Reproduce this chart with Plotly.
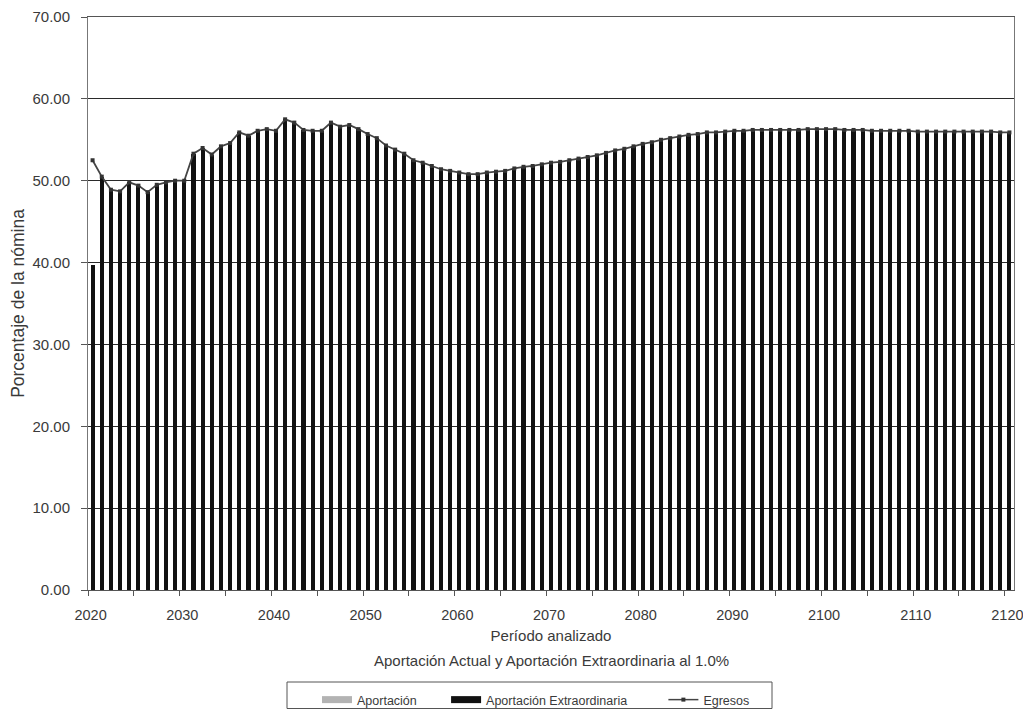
import plotly.graph_objects as go

years = list(range(2020, 2121))

egresos = [
    52.5, 50.5, 48.9, 48.7, 49.8, 49.4, 48.6, 49.5, 49.8, 50.0,  # 2020-2029
    50.0, 53.3, 54.0, 53.2, 54.2, 54.6, 55.9, 55.5, 56.1, 56.3,  # 2030-2039
    56.1, 57.5, 57.1, 56.2, 56.1, 56.1, 57.1, 56.6, 56.8, 56.3,  # 2040-2049
    55.7, 55.2, 54.3, 53.8, 53.3, 52.5, 52.2, 51.8, 51.4, 51.2,  # 2050-2059
    51.0, 50.8, 50.8, 51.0, 51.1, 51.2, 51.5, 51.7, 51.8, 52.0,  # 2060-2069
    52.2, 52.3, 52.5, 52.7, 52.9, 53.1, 53.4, 53.7, 53.9, 54.2,  # 2070-2079
    54.5, 54.7, 55.0, 55.2, 55.4, 55.6, 55.7, 55.9, 55.9, 56.0,  # 2080-2089
    56.1, 56.1, 56.2, 56.2, 56.2, 56.2, 56.2, 56.2, 56.3, 56.3,  # 2090-2099
    56.3, 56.3, 56.2, 56.2, 56.2, 56.1, 56.1, 56.1, 56.1, 56.1,  # 2100-2109
    56.0, 56.0, 56.0, 56.0, 56.0, 56.0, 56.0, 56.0, 56.0, 55.9,  # 2110-2119
    55.9,                                                        # 2120
]

aportacion_extra_2020 = 39.7
aportacion_extraordinaria = [aportacion_extra_2020] + egresos[1:]
aportacion = [0.0] * len(years)

tick_years = list(range(2020, 2121, 10))
tick_labels = [str(y) for y in tick_years]
y_ticks = list(range(0, 71, 10))
y_labels = ["%.2f" % v for v in y_ticks]

FONT = "Liberation Sans, Arial, sans-serif"
TXT = "#3a3a3a"
GRAY_BAR = "#b3b3b3"
BLACK_BAR = "#111111"
LINE_C = "#444444"

# The page body has an 8px margin, so the figure is sized to fit the window.
OFF = 8
W, H = 1015, 701
ML, MR, MT, MB = 80, 9, 9, 119
PW, PH = W - ML - MR, H - MT - MB
X0, Y1 = 88, 590  # plot-area left / bottom in window pixels


def px_x(px):
    return (px - X0) / PW


def px_y(py):
    return (Y1 - py) / PH


def cont_x(px):
    return (px - OFF) / W


def cont_y(py):
    return 1 - (py - OFF) / H


NB = "\u00a0"

fig = go.Figure()
fig.add_trace(go.Bar(x=years, y=aportacion, name="Aportación", showlegend=False,
                     marker=dict(color=GRAY_BAR, line=dict(width=0))))
fig.add_trace(go.Bar(x=years, y=aportacion_extraordinaria, name="Aportación Extraordinaria",
                     showlegend=False, marker=dict(color=BLACK_BAR, line=dict(width=0))))
fig.add_trace(go.Scatter(x=years, y=egresos, name="Egresos", mode="lines+markers",
                         showlegend=False,
                         line=dict(color=LINE_C, width=1.8),
                         marker=dict(symbol="square", size=4, color="#333333")))

# legend entries
fig.add_trace(go.Scatter(x=[None], y=[None], mode="lines", name="Aportación" + NB * 7,
                         line=dict(color=GRAY_BAR, width=7)))
fig.add_trace(go.Scatter(x=[None], y=[None], mode="lines", name="Aportación Extraordinaria" + NB * 9,
                         line=dict(color=BLACK_BAR, width=7)))
fig.add_trace(go.Scatter(x=[None], y=[None], mode="lines+markers", name="Egresos",
                         line=dict(color=LINE_C, width=1.5),
                         marker=dict(symbol="square", size=4, color="#333333")))

fig.update_layout(
    width=W, height=H,
    barmode="stack", bargap=0.55,
    plot_bgcolor="white", paper_bgcolor="white",
    margin=dict(l=ML, r=MR, t=MT, b=MB, autoexpand=False),
    font=dict(family=FONT, size=15, color=TXT),
    legend=dict(orientation="h", xref="container", yref="container",
                x=cont_x(317), xanchor="left", y=cont_y(685), yanchor="top",
                borderwidth=0, bgcolor="rgba(0,0,0,0)", font=dict(size=12.5, color=TXT),
                itemwidth=30, traceorder="normal"),
    showlegend=True,
    shapes=[dict(type="rect", xref="paper", yref="paper",
                 x0=px_x(287), x1=px_x(772), y0=px_y(708.5), y1=px_y(682),
                 line=dict(color="#555555", width=1), fillcolor="rgba(0,0,0,0)")],
    annotations=[dict(text="Aportación Actual y Aportación Extraordinaria al 1.0%",
                      xref="paper", yref="paper", x=0.5, y=px_y(660),
                      xanchor="center", yanchor="middle", showarrow=False,
                      font=dict(size=15, color=TXT))],
)

fig.update_xaxes(
    range=[2019.5, 2120.5], automargin=False,
    tickmode="array", tickvals=tick_years, ticktext=tick_labels,
    ticks="", showgrid=False, ticklabelstandoff=12, ticklabeloverflow="allow",
    ticklabelshift=-2,
    showline=True, linecolor="#555555", linewidth=1, mirror=True,
    minor=dict(ticks="outside", tick0=2019.5, dtick=5, ticklen=5,
               tickcolor="#555555", showgrid=False),
    title=dict(text="Período analizado", font=dict(size=15, color=TXT), standoff=8),
    tickfont=dict(size=14.5, color=TXT),
)
fig.update_yaxes(
    range=[0, 70], automargin=False,
    tickmode="array", tickvals=y_ticks, ticktext=y_labels,
    ticks="outside", ticklen=6, tickcolor="#555555", ticklabelstandoff=8,
    showgrid=True, gridcolor="#2a2a2a", gridwidth=1,
    showline=True, linecolor="#777777", linewidth=1, mirror=True,
    zeroline=False,
    title=dict(text="Porcentaje de la nómina", font=dict(size=17.5, color=TXT), standoff=4),
    tickfont=dict(size=15, color=TXT),
)

fig.write_html("out.html")
